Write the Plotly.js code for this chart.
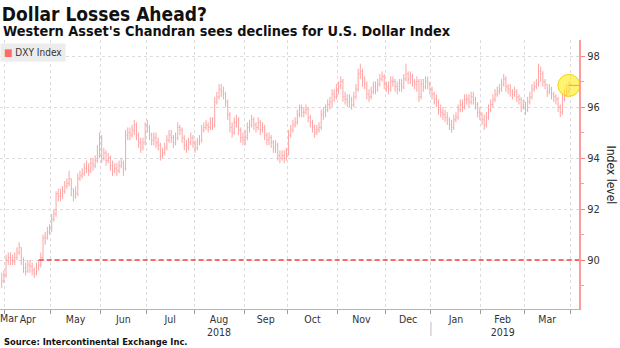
<!DOCTYPE html>
<html>
<head>
<meta charset="utf-8">
<script src="https://cdn.plot.ly/plotly-3.0.1.min.js"></script>
<style>html,body{margin:0;padding:0;background:#fff;}#chart{width:620px;height:348px;}</style>
</head>
<body>
<div id="chart"></div>
<script>
// ---- Data (DXY Index daily bars, weekdays from 2018-03-29 to 2019-03-29) ----
const firstDay = '2018-03-29';
const dxyOpen = [
  89.1, 89.2,
  89.4, 90.0, 90.1, 90.0, 89.95, 90.1, 90.3, 90.5, 90.0, 89.7, 89.55, 89.8, 89.75, 89.6, 89.45, 89.7, 89.8, 90.1, 90.85, 90.9, 91.1,
  91.2, 91.6, 91.8, 92.6, 92.5, 92.6, 92.7, 92.9, 93.0, 93.2, 92.8, 92.5, 92.6, 93.2, 93.3, 93.4, 93.6, 93.6, 93.5, 93.8, 93.7, 93.9, 94.1,
  94.8, 94.0, 94.2, 93.9, 94.0, 93.7, 93.5, 93.6, 93.5, 93.7, 93.8, 93.6, 94.9, 95.0, 94.9, 95.1, 95.3, 94.9, 94.6, 94.4, 94.6,
  95.3, 95.2, 94.9, 94.7, 94.8, 94.6, 94.5, 94.1, 94.2, 94.4, 94.7, 94.9, 94.8, 94.6, 94.8, 95.2, 95.1, 94.8, 94.5, 94.4, 94.6, 94.8,
  94.6, 94.4, 94.6, 94.7, 95.1, 95.2, 95.3, 95.2, 95.4, 95.3, 96.2, 96.4, 96.7, 96.6, 96.5, 96.2, 95.7, 95.2, 95.0, 95.4, 95.5, 95.1, 94.8,
  94.7, 94.8, 95.2, 95.3, 95.5, 95.3, 95.2, 95.4, 95.1, 95.2, 94.9, 94.7, 94.8, 94.6, 94.4, 94.5, 94.1, 94.0, 94.1, 94.0,
  94.2, 94.9, 95.1, 95.3, 95.4, 95.7, 95.9, 95.8, 95.8, 95.9, 95.6, 95.4, 95.2, 95.0, 95.1, 95.2, 95.7, 95.8, 95.9, 96.1, 96.2, 96.5, 96.4,
  96.6, 96.8, 97.0, 96.4, 96.3, 96.2, 96.3, 96.1, 96.4, 96.7, 97.3, 97.4, 97.0, 96.9, 96.5, 96.4, 96.6, 96.8, 96.7, 96.9, 97.1, 97.2,
  96.9, 96.8, 96.7, 97.0, 97.0, 96.8, 96.7, 96.9, 96.8, 97.1, 97.3, 97.1, 97.2, 97.0, 96.9, 97.0, 96.4, 96.9, 96.8, 97.0, 96.9,
  96.7, 96.5, 96.3, 96.2, 95.9, 95.8, 95.7, 95.6, 95.5, 95.3, 95.2, 95.5, 95.6, 95.9, 96.1, 96.0, 96.3, 96.3, 96.2, 96.4, 96.3, 96.1, 95.8,
  95.7, 95.5, 95.3, 95.6, 95.9, 96.1, 96.3, 96.5, 96.6, 96.7, 96.9, 97.1, 96.8, 96.7, 96.6, 96.5, 96.6, 96.4, 96.3, 96.0,
  96.1, 95.9, 96.2, 96.4, 96.7, 96.8, 96.9, 97.4, 97.3, 97.0, 96.9, 96.6, 96.7, 96.5, 96.4, 96.3, 96.0, 95.8, 96.3, 96.5, 96.6
];
const dxyHigh = [
  89.5, 89.6,
  90.2, 90.3, 90.3, 90.2, 90.3, 90.5, 90.7, 90.5, 90.1, 89.9, 90.0, 90.0, 89.9, 89.7, 89.9, 90.0, 90.3, 91.0, 91.1, 91.3, 91.4,
  91.8, 92.0, 92.7, 92.8, 92.8, 92.9, 93.1, 93.2, 93.5, 93.2, 92.8, 92.9, 93.4, 93.5, 93.6, 93.8, 93.9, 93.8, 94.0, 94.0, 94.1, 94.5, 95.0,
  94.9, 94.4, 94.3, 94.2, 94.1, 93.9, 93.8, 93.8, 93.9, 94.0, 93.9, 95.1, 95.2, 95.2, 95.3, 95.5, 95.4, 95.0, 94.8, 94.8, 95.4,
  95.5, 95.3, 95.0, 95.0, 95.0, 94.8, 94.6, 94.4, 94.6, 94.9, 95.1, 95.1, 94.9, 95.0, 95.4, 95.3, 95.2, 94.9, 94.7, 94.8, 95.0, 94.9,
  94.7, 94.8, 94.9, 95.3, 95.4, 95.5, 95.4, 95.6, 95.6, 96.4, 96.6, 96.9, 96.9, 96.8, 96.6, 96.3, 95.8, 95.4, 95.6, 95.7, 95.6, 95.2, 95.0,
  95.1, 95.4, 95.5, 95.7, 95.6, 95.4, 95.6, 95.5, 95.4, 95.3, 95.0, 95.0, 94.9, 94.7, 94.7, 94.6, 94.3, 94.3, 94.3, 94.4,
  95.1, 95.3, 95.5, 95.6, 95.9, 96.1, 96.1, 96.0, 96.1, 96.0, 95.7, 95.5, 95.3, 95.3, 95.4, 95.9, 96.0, 96.1, 96.3, 96.4, 96.7, 96.7, 96.9,
  97.0, 97.2, 97.1, 96.6, 96.5, 96.5, 96.4, 96.6, 96.9, 97.5, 97.7, 97.5, 97.2, 97.0, 96.7, 96.8, 97.0, 97.0, 97.1, 97.3, 97.4, 97.3,
  97.0, 97.0, 97.2, 97.2, 97.1, 97.0, 97.1, 97.1, 97.3, 97.7, 97.4, 97.4, 97.3, 97.1, 97.2, 97.1, 97.1, 97.1, 97.2, 97.2, 97.0,
  96.8, 96.6, 96.5, 96.3, 96.1, 96.0, 95.9, 95.8, 95.6, 95.5, 95.7, 95.8, 96.1, 96.3, 96.3, 96.5, 96.5, 96.5, 96.6, 96.6, 96.4, 96.2, 96.0,
  95.8, 95.7, 95.8, 96.1, 96.3, 96.5, 96.7, 96.8, 96.9, 97.1, 97.3, 97.2, 96.9, 96.9, 96.7, 96.8, 96.7, 96.5, 96.4, 96.3,
  96.2, 96.4, 96.6, 96.9, 97.0, 97.1, 97.7, 97.6, 97.4, 97.1, 96.9, 96.9, 96.8, 96.6, 96.5, 96.4, 96.1, 96.5, 96.7, 96.9, 97.0
];
const dxyLow = [
  88.9, 89.1,
  89.3, 89.8, 89.8, 89.8, 89.8, 90.0, 90.2, 89.8, 89.5, 89.4, 89.5, 89.5, 89.4, 89.3, 89.4, 89.6, 89.7, 90.0, 90.6, 90.8, 91.0,
  91.1, 91.5, 91.7, 92.3, 92.3, 92.4, 92.6, 92.8, 92.9, 92.5, 92.3, 92.4, 92.5, 93.1, 93.2, 93.3, 93.4, 93.3, 93.4, 93.5, 93.6, 93.8, 94.0,
  93.8, 93.9, 93.7, 93.8, 93.5, 93.3, 93.4, 93.3, 93.4, 93.6, 93.3, 93.5, 94.7, 94.7, 94.8, 94.9, 94.7, 94.4, 94.2, 94.3, 94.5,
  95.0, 94.7, 94.5, 94.5, 94.4, 94.3, 93.9, 94.0, 94.1, 94.3, 94.6, 94.6, 94.4, 94.5, 94.7, 94.9, 94.6, 94.3, 94.2, 94.3, 94.5, 94.4,
  94.2, 94.3, 94.5, 94.6, 95.0, 95.1, 95.0, 95.1, 95.1, 95.2, 96.1, 96.3, 96.4, 96.3, 96.0, 95.5, 95.0, 94.8, 94.9, 95.2, 94.9, 94.6, 94.5,
  94.5, 94.7, 95.0, 95.2, 95.1, 95.0, 95.1, 94.9, 95.0, 94.7, 94.5, 94.5, 94.4, 94.2, 94.2, 93.9, 93.8, 93.9, 93.8, 93.9,
  94.1, 94.8, 95.0, 95.2, 95.3, 95.6, 95.6, 95.6, 95.7, 95.4, 95.2, 95.0, 94.8, 94.9, 95.0, 95.1, 95.5, 95.6, 95.8, 95.9, 96.0, 96.2, 96.3,
  96.5, 96.7, 96.2, 96.1, 96.0, 96.0, 95.9, 96.0, 96.3, 96.6, 97.1, 96.8, 96.7, 96.3, 96.2, 96.3, 96.5, 96.5, 96.6, 96.8, 97.0, 96.7,
  96.6, 96.5, 96.6, 96.8, 96.6, 96.5, 96.6, 96.6, 96.7, 97.0, 96.9, 96.9, 96.8, 96.7, 96.6, 96.2, 96.3, 96.6, 96.7, 96.7, 96.5,
  96.3, 96.1, 96.0, 95.7, 95.6, 95.5, 95.4, 95.3, 95.1, 95.0, 95.1, 95.4, 95.5, 95.8, 95.8, 95.9, 96.1, 96.0, 96.1, 96.1, 95.9, 95.6, 95.5,
  95.3, 95.1, 95.2, 95.5, 95.8, 96.0, 96.2, 96.4, 96.5, 96.6, 96.8, 96.6, 96.5, 96.4, 96.3, 96.4, 96.2, 96.1, 95.8, 95.9,
  95.7, 95.8, 96.1, 96.3, 96.6, 96.7, 96.8, 97.0, 96.8, 96.7, 96.4, 96.5, 96.3, 96.2, 96.1, 95.8, 95.6, 95.7, 96.2, 96.4, 96.5
];
const dxyClose = [
  89.2, 89.4,
  90.0, 90.1, 90.0, 89.95, 90.1, 90.3, 90.5, 90.0, 89.7, 89.55, 89.8, 89.75, 89.6, 89.45, 89.7, 89.8, 90.1, 90.85, 90.9, 91.1, 91.2,
  91.6, 91.8, 92.6, 92.5, 92.6, 92.7, 92.9, 93.0, 93.2, 92.8, 92.5, 92.6, 93.2, 93.3, 93.4, 93.6, 93.6, 93.5, 93.8, 93.7, 93.9, 94.1, 94.8,
  94.0, 94.2, 93.9, 94.0, 93.7, 93.5, 93.6, 93.5, 93.7, 93.8, 93.6, 94.9, 95.0, 94.9, 95.1, 95.3, 94.9, 94.6, 94.4, 94.6, 95.3,
  95.2, 94.9, 94.7, 94.8, 94.6, 94.5, 94.1, 94.2, 94.4, 94.7, 94.9, 94.8, 94.6, 94.8, 95.2, 95.1, 94.8, 94.5, 94.4, 94.6, 94.8, 94.6,
  94.4, 94.6, 94.7, 95.1, 95.2, 95.3, 95.2, 95.4, 95.3, 96.2, 96.4, 96.7, 96.6, 96.5, 96.2, 95.7, 95.2, 95.0, 95.4, 95.5, 95.1, 94.8, 94.7,
  94.8, 95.2, 95.3, 95.5, 95.3, 95.2, 95.4, 95.1, 95.2, 94.9, 94.7, 94.8, 94.6, 94.4, 94.5, 94.1, 94.0, 94.1, 94.0, 94.2,
  94.9, 95.1, 95.3, 95.4, 95.7, 95.9, 95.8, 95.8, 95.9, 95.6, 95.4, 95.2, 95.0, 95.1, 95.2, 95.7, 95.8, 95.9, 96.1, 96.2, 96.5, 96.4, 96.6,
  96.8, 97.0, 96.4, 96.3, 96.2, 96.3, 96.1, 96.4, 96.7, 97.3, 97.4, 97.0, 96.9, 96.5, 96.4, 96.6, 96.8, 96.7, 96.9, 97.1, 97.2, 96.9,
  96.8, 96.7, 97.0, 97.0, 96.8, 96.7, 96.9, 96.8, 97.1, 97.3, 97.1, 97.2, 97.0, 96.9, 97.0, 96.4, 96.9, 96.8, 97.0, 96.9, 96.7,
  96.5, 96.3, 96.2, 95.9, 95.8, 95.7, 95.6, 95.5, 95.3, 95.2, 95.5, 95.6, 95.9, 96.1, 96.0, 96.3, 96.3, 96.2, 96.4, 96.3, 96.1, 95.8, 95.7,
  95.5, 95.3, 95.6, 95.9, 96.1, 96.3, 96.5, 96.6, 96.7, 96.9, 97.1, 96.8, 96.7, 96.6, 96.5, 96.6, 96.4, 96.3, 96.0, 96.1,
  95.9, 96.2, 96.4, 96.7, 96.8, 96.9, 97.4, 97.3, 97.0, 96.9, 96.6, 96.7, 96.5, 96.4, 96.3, 96.0, 95.8, 96.3, 96.5, 96.6, 96.85
];
const monthNames = ['Apr','May','Jun','Jul','Aug<br>2018','Sep','Oct','Nov','Dec','Jan','Feb<br>2019','Mar'];
const monthKeys  = ['2018-04','2018-05','2018-06','2018-07','2018-08','2018-09','2018-10','2018-11','2018-12','2019-01','2019-02','2019-03','2019-04'];
const firstMonthLabel = 'Mar';
const yTicks = [90, 92, 94, 96, 98];
const refLevel = 90;
const refStart = '2018-04-23 12:00';
const xRange = ['2018-03-28 17:00', '2019-04-05 03:00'];
const yRange = [88.08, 98.63];

// ---- helpers: weekday calendar (x positions only) ----
function isoDay(d){ return d.toISOString().slice(0,10); }
function weekdaysFrom(start, n){
  const out = []; const d = new Date(start + 'T00:00:00Z');
  while (out.length < n){ const w = d.getUTCDay(); if (w !== 0 && w !== 6) out.push(isoDay(d)); d.setUTCDate(d.getUTCDate()+1); }
  return out;
}
function weekdaysOfMonth(key){
  const d = new Date(key + '-01T00:00:00Z'); const m = d.getUTCMonth(); const out = [];
  while (d.getUTCMonth() === m){ const w = d.getUTCDay(); if (w !== 0 && w !== 6) out.push(isoDay(d)); d.setUTCDate(d.getUTCDate()+1); }
  return out;
}
const days = weekdaysFrom(firstDay, dxyClose.length).map(s => s + ' 12:00');
const monthBounds = monthKeys.map(k => weekdaysOfMonth(k)[0] + ' 00:00');
const labelPos = monthKeys.slice(0, monthNames.length).map(k => {
  const w = weekdaysOfMonth(k); const n = w.length;
  return (n % 2 === 1) ? w[(n-1)/2] + ' 12:00' : w[n/2] + ' 00:00';
});
const hi = dxyHigh.map((h,i) => Math.max(h, dxyOpen[i], dxyClose[i]));
const lo = dxyLow.map((l,i) => Math.min(l, dxyOpen[i], dxyClose[i]));
const last = dxyClose.length - 1;

const F = '"DejaVu Sans Condensed", "DejaVu Sans", sans-serif';
const barColor = '#ffa3a3';

const traces = [
  {
    type: 'ohlc', x: days, open: dxyOpen, high: hi, low: lo, close: dxyClose,
    increasing: {line: {color: barColor, width: 1}},
    decreasing: {line: {color: barColor, width: 1}},
    tickwidth: 0.35, showlegend: false, hoverinfo: 'skip', name: 'DXY Index'
  },
  {
    type: 'scatter', mode: 'markers', x: [days[last]], y: [dxyClose[last]],
    marker: {size: 22, color: 'rgba(255,236,20,0.6)', line: {color: 'rgba(240,205,0,0.9)', width: 1}},
    showlegend: false, hoverinfo: 'skip', cliponaxis: false
  }
];

const layout = {
  width: 620, height: 348,
  margin: {l: 0, r: 41, t: 40, b: 39},
  paper_bgcolor: '#ffffff', plot_bgcolor: '#ffffff',
  font: {family: F, color: '#333333', size: 11},
  showlegend: false,
  title: {
    text: '<b>Dollar Losses Ahead?</b>', font: {family: F, size: 19, color: '#111111'},
    xref: 'container', x: 0.003, xanchor: 'left', yref: 'container', y: 1 - 14/348, yanchor: 'middle', pad: {l: 0, t: 0, b: 0, r: 0}
  },
  xaxis: {
    type: 'date', range: xRange, rangebreaks: [{bounds: ['sat', 'mon']}],
    rangeslider: {visible: false},
    tickmode: 'array', tickvals: labelPos, ticktext: monthNames, ticks: '',
    showgrid: false, zeroline: false, showline: true, linecolor: '#b5b5b5', linewidth: 1,
    tickfont: {family: F, size: 10.5, color: '#333333'},
    minor: {tickvals: monthBounds, ticks: 'outside', ticklen: 4, tickcolor: '#9a9a9a', tickwidth: 1,
            showgrid: true, gridcolor: '#dcdcdc', gridwidth: 1, griddash: 'dot'},
    fixedrange: true
  },
  yaxis: {
    side: 'right', range: yRange, tickmode: 'array', tickvals: yTicks,
    ticks: 'outside', ticklen: 4, tickcolor: '#ff7f7f', tickwidth: 1,
    showline: true, linecolor: '#ff9a9a', linewidth: 2,
    showgrid: true, gridcolor: '#dcdcdc', gridwidth: 1, griddash: 'dot', zeroline: false,
    minor: {dtick: 1, ticks: 'outside', ticklen: 3, tickcolor: '#ff9a9a', showgrid: false},
    tickfont: {family: F, size: 11, color: '#333333'},
    fixedrange: true
  },
  shapes: [
    {type: 'line', xref: 'x', yref: 'y', x0: refStart, x1: xRange[1], y0: refLevel, y1: refLevel,
     line: {color: '#ff3b3b', width: 1.5, dash: '5px,3px'}},
    {type: 'line', xref: 'x', yref: 'y', x0: days[last], x1: xRange[1], y0: dxyClose[last], y1: dxyClose[last],
     line: {color: '#ff8c8c', width: 1}},
    {type: 'line', xref: 'x', yref: 'paper', x0: monthBounds[9], x1: monthBounds[9], y0: -0.048, y1: -0.1,
     line: {color: '#bbbbbb', width: 1}}
  ],
  annotations: [
    {text: "<b>Western Asset's Chandran sees declines for U.S. Dollar Index</b>", xref: 'paper', yref: 'paper',
     x: 0, y: 1 + (40 - 30.5)/269, xanchor: 'left', yanchor: 'middle', xshift: 1, showarrow: false,
     font: {family: F, size: 14.4, color: '#111111'}},
    {text: '<span style="color:#ff6b6b">■</span> DXY Index', xref: 'paper', yref: 'paper', x: 0, y: 1,
     xanchor: 'left', yanchor: 'top', yshift: -3, showarrow: false, bgcolor: '#ececec', borderpad: 3,
     font: {family: F, size: 10, color: '#333333'}},
    {text: firstMonthLabel, xref: 'paper', yref: 'paper', x: 0, y: 0, xanchor: 'left', yanchor: 'top', yshift: -1, xshift: -2,
     showarrow: false, font: {family: F, size: 10.5, color: '#333333'}},
    {text: 'Index level', xref: 'paper', yref: 'paper', x: 1, y: 0.5, xanchor: 'center', yanchor: 'middle',
     xshift: 32, textangle: 90, showarrow: false, font: {family: F, size: 12, color: '#222222'}},
    {text: '<b>Source: Intercontinental Exchange Inc.</b>', xref: 'paper', yref: 'paper', x: 0, y: -(341 - 309)/269,
     xanchor: 'left', yanchor: 'middle', xshift: 2, showarrow: false, font: {family: F, size: 9.3, color: '#111111'}}
  ]
};

Plotly.newPlot('chart', traces, layout, {staticPlot: true, displayModeBar: false});
</script>
</body>
</html>
